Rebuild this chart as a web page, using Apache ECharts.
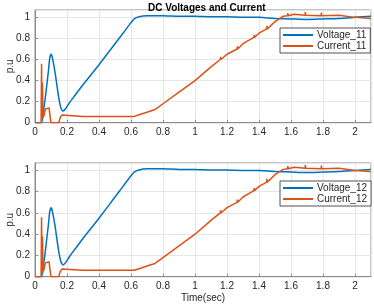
<!DOCTYPE html>
<html>
<head>
<meta charset="utf-8">
<script src="https://cdn.jsdelivr.net/npm/echarts@6/dist/echarts.min.js"></script>
<style>
  html, body { margin: 0; padding: 0; background: #fff; }
  #chart { width: 374px; height: 308px; }
</style>
</head>
<body>
<div id="chart"></div>
<script>
// time axis ticks
const timeTicks = [0, 0.2, 0.4, 0.6, 0.8, 1, 1.2, 1.4, 1.6, 1.8, 2];
const puTicks = [0, 0.2, 0.4, 0.6, 0.8, 1];

// voltage samples (sec, p.u)
const vTime = [0, 0.04, 0.05, 0.063, 0.083, 0.092, 0.1, 0.108, 0.125, 0.146, 0.162, 0.175, 0.19, 0.22, 0.25, 0.3, 0.4, 0.5, 0.55, 0.6, 0.62, 0.65, 0.7, 0.8, 0.9, 1.0, 1.1, 1.2, 1.3, 1.4, 1.45, 1.5, 1.6, 1.7, 1.8, 1.9, 2.0, 2.1];
const voltage11 = [0, 0, 0.08, 0.22, 0.48, 0.61, 0.65, 0.62, 0.48, 0.26, 0.14, 0.11, 0.13, 0.2, 0.26, 0.36, 0.55, 0.75, 0.85, 0.95, 0.985, 1.005, 1.015, 1.015, 1.01, 1.01, 1.005, 1.005, 1.0, 1.0, 0.995, 0.99, 0.985, 0.98, 0.985, 0.99, 1.0, 1.01];
const voltage12 = [0, 0, 0.08, 0.22, 0.48, 0.61, 0.65, 0.62, 0.48, 0.26, 0.14, 0.11, 0.13, 0.2, 0.26, 0.36, 0.55, 0.75, 0.85, 0.95, 0.985, 1.005, 1.015, 1.015, 1.01, 1.01, 1.005, 1.005, 1.0, 1.0, 0.995, 0.99, 0.985, 0.98, 0.985, 0.99, 1.0, 1.01];

// current samples (sec, p.u)
const iTime = [0, 0.038, 0.041, 0.044, 0.047, 0.05, 0.053, 0.056, 0.06, 0.065, 0.075, 0.088, 0.095, 0.1, 0.148, 0.158, 0.168, 0.18, 0.3, 0.5, 0.62, 0.65, 0.7, 0.75, 0.8, 0.9, 1.0, 1.1, 1.158, 1.16, 1.162, 1.2, 1.263, 1.265, 1.267, 1.3, 1.368, 1.37, 1.372, 1.4, 1.448, 1.45, 1.452, 1.5, 1.55, 1.578, 1.58, 1.582, 1.62, 1.688, 1.69, 1.692, 1.7, 1.788, 1.79, 1.792, 1.8, 1.9, 2.0, 2.1];
const current11 = [0, 0, 0.56, 0.05, 0.38, 0.04, 0.12, 0.06, 0.1, 0.13, 0.145, 0.14, 0.05, 0, 0, 0.05, 0.072, 0.062, 0.06, 0.06, 0.06, 0.075, 0.1, 0.125, 0.18, 0.29, 0.4, 0.53, 0.6, 0.625, 0.6, 0.65, 0.7, 0.725, 0.7, 0.75, 0.81, 0.835, 0.81, 0.85, 0.89, 0.92, 0.89, 0.96, 1.01, 1.015, 1.04, 1.015, 1.03, 1.02, 1.05, 1.02, 1.035, 1.015, 1.045, 1.015, 1.03, 1.02, 1.0, 0.99];
const current12 = [0, 0, 0.56, 0.05, 0.38, 0.04, 0.12, 0.06, 0.1, 0.13, 0.145, 0.14, 0.05, 0, 0, 0.05, 0.072, 0.062, 0.06, 0.06, 0.06, 0.075, 0.1, 0.125, 0.18, 0.29, 0.4, 0.53, 0.6, 0.625, 0.6, 0.65, 0.7, 0.725, 0.7, 0.75, 0.81, 0.835, 0.81, 0.85, 0.89, 0.92, 0.89, 0.96, 1.01, 1.015, 1.04, 1.015, 1.03, 1.02, 1.05, 1.02, 1.035, 1.015, 1.045, 1.015, 1.03, 1.02, 1.0, 0.99];

const BLUE = '#0072BD';
const ORANGE = '#D95319';
const FONT = 'Liberation Sans';

function pairs(xs, ys) {
    return xs.map(function (x, i) { return [x, ys[i]]; });
}

function xAxisFor(idx, withName) {
    return {
        type: 'value',
        gridIndex: idx,
        min: 0,
        max: 2.1,
        interval: 0.2,
        name: withName ? 'Time(sec)' : '',
        nameLocation: 'middle',
        nameGap: 17,
        nameMoveOverlap: false,
        nameTextStyle: { color: '#262626', fontSize: 10, fontFamily: FONT },
        axisLine: { onZero: false, lineStyle: { color: '#8c8c8c', width: 1 } },
        axisTick: { inside: true, length: 3, lineStyle: { color: '#8c8c8c' } },
        axisLabel: {
            color: '#262626', fontSize: 10, fontFamily: FONT, margin: 5,
            showMaxLabel: false,
            formatter: function (v) { return timeTicks.indexOf(Math.round(v * 10) / 10) >= 0 ? String(Math.round(v * 10) / 10) : ''; }
        },
        splitLine: { show: true, lineStyle: { color: '#e6e6e6', width: 1 } }
    };
}

function yAxisFor(idx) {
    return {
        type: 'value',
        gridIndex: idx,
        min: 0,
        max: 1.07,
        interval: 0.2,
        name: 'p.u',
        nameLocation: 'middle',
        nameGap: 20,
        nameRotate: 90,
        nameMoveOverlap: false,
        nameTextStyle: { color: '#262626', fontSize: 10, fontFamily: FONT },
        axisLine: { show: true, lineStyle: { color: '#8c8c8c', width: 1 } },
        axisTick: { show: true, inside: true, length: 3, lineStyle: { color: '#8c8c8c' } },
        axisLabel: {
            color: '#262626', fontSize: 10, fontFamily: FONT, margin: 5,
            showMaxLabel: false,
            formatter: function (v) { return puTicks.indexOf(Math.round(v * 10) / 10) >= 0 ? String(Math.round(v * 10) / 10) : ''; }
        },
        splitLine: { show: true, lineStyle: { color: '#e6e6e6', width: 1 } }
    };
}

function lineSeries(name, idx, data, color, smooth) {
    return {
        name: name,
        type: 'line',
        xAxisIndex: idx,
        yAxisIndex: idx,
        data: data,
        showSymbol: false,
        smooth: smooth,
        animation: false,
        lineStyle: { color: color, width: 1.5 },
        itemStyle: { color: color }
    };
}

function legendFor(top, names) {
    return {
        left: 280,
        top: top,
        orient: 'vertical',
        data: names,
        icon: 'rect',
        itemWidth: 30,
        itemHeight: 2,
        itemGap: 1,
        padding: [2, 4, 2, 3],
        backgroundColor: '#fff',
        borderColor: '#262626',
        borderWidth: 0.8,
        textStyle: { color: '#262626', fontSize: 10, fontFamily: FONT, lineHeight: 10, padding: [0, 0, 0, -1] }
    };
}

const chart = echarts.init(document.getElementById('chart'));
chart.setOption({
    backgroundColor: '#fff',
    animation: false,
    title: {
        text: 'DC Voltages and Current',
        left: 143,
        top: -2,
        textStyle: { color: '#000', fontSize: 10, fontWeight: 'bold', fontFamily: FONT }
    },
    grid: [
        { left: 35, right: 3, top: 10, height: 112.7, outerBoundsMode: 'none', containLabel: false, show: true, borderColor: '#8c8c8c', borderWidth: 1, backgroundColor: 'transparent' },
        { left: 35, right: 3, top: 163, height: 113.7, outerBoundsMode: 'none', containLabel: false, show: true, borderColor: '#8c8c8c', borderWidth: 1, backgroundColor: 'transparent' }
    ],
    xAxis: [xAxisFor(0, false), xAxisFor(1, true)],
    yAxis: [yAxisFor(0), yAxisFor(1)],
    legend: [
        legendFor(28, ['Voltage_11', 'Current_11']),
        legendFor(181, ['Voltage_12', 'Current_12'])
    ],
    series: [
        lineSeries('Voltage_11', 0, pairs(vTime, voltage11), BLUE, 0.2),
        lineSeries('Current_11', 0, pairs(iTime, current11), ORANGE, false),
        lineSeries('Voltage_12', 1, pairs(vTime, voltage12), BLUE, 0.2),
        lineSeries('Current_12', 1, pairs(iTime, current12), ORANGE, false)
    ]
});
</script>
</body>
</html>
